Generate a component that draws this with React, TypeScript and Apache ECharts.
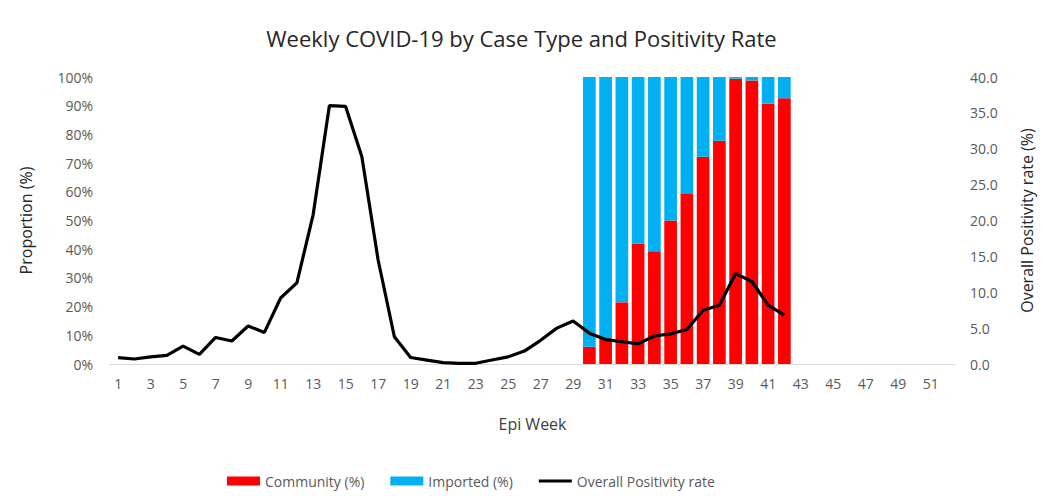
import React, { useEffect, useRef } from "react";
import * as echarts from "echarts";

const weeks: string[] = Array.from({ length: 52 }, (_, i) => String(i + 1));

// Community (%) for weeks 30-42 (others empty)
const communityPct: (number | null)[] = [
  null, null, null, null, null, null, null, null, null, null,
  null, null, null, null, null, null, null, null, null, null,
  null, null, null, null, null, null, null, null, null,
  6, 9, 21.5, 42, 39.3, 50, 59.5, 72.2, 77.8, 99.4, 98.8, 90.7, 92.6,
  null, null, null, null, null, null, null, null, null, null,
];

const importedPct: (number | null)[] = communityPct.map((v) =>
  v === null ? null : Math.round((100 - v) * 10) / 10
);

// Overall positivity rate (%) weeks 1-42
const positivity: (number | null)[] = [
  0.9, 0.7, 1.0, 1.2, 2.5, 1.35, 3.7, 3.2, 5.3, 4.4,
  9.2, 11.3, 20.8, 36.0, 35.9, 28.9, 14.5, 3.8, 0.9, 0.55,
  0.2, 0.1, 0.1, 0.55, 1.0, 1.8, 3.3, 5.0, 6.0, 4.3,
  3.4, 3.1, 2.8, 3.9, 4.2, 4.8, 7.5, 8.2, 12.6, 11.5,
  8.2, 6.8,
  null, null, null, null, null, null, null, null, null, null,
];

const FONT = "Open Sans";

export default function App() {
  const ref = useRef<HTMLDivElement>(null);
  useEffect(() => {
    if (!ref.current) return;
    const chart = echarts.init(ref.current, undefined, { renderer: "svg" });
    chart.setOption({
      animation: false,
      backgroundColor: "#ffffff",
      textStyle: { fontFamily: FONT },
      title: {
        text: "Weekly COVID-19 by Case Type and Positivity Rate",
        left: "center",
        top: 22,
        textStyle: { fontFamily: FONT, fontSize: 22, fontWeight: "normal", color: "#262626" },
      },
      legend: {
        bottom: 3,
        left: 222,
        itemWidth: 33,
        itemHeight: 9,
        itemGap: 26,
        textStyle: { fontFamily: FONT, fontSize: 14, color: "#595959" },
        data: [
          { name: "Community (%)", icon: "rect" },
          { name: "Imported (%)", icon: "rect" },
          { name: "Overall Positivity rate", icon: "path://M0,0 H33 V3 H0 Z" },
        ],
      },
      grid: { left: 110, right: 83, top: 77, bottom: 132 },
      xAxis: {
        type: "category",
        data: weeks,
        boundaryGap: true,
        name: "Epi Week",
        nameLocation: "middle",
        nameGap: 52,
        nameTextStyle: { fontFamily: FONT, fontSize: 16, color: "#404040" },
        axisLine: { lineStyle: { color: "#d9d9d9", width: 1 } },
        axisTick: { show: false },
        axisLabel: { interval: 1, margin: 12, fontSize: 14, color: "#595959", fontFamily: FONT },
      },
      yAxis: [
        {
          type: "value",
          min: 0,
          max: 100,
          interval: 10,
          name: "Proportion (%)",
          nameLocation: "middle",
          nameGap: 76,
          nameTextStyle: { fontFamily: FONT, fontSize: 16, color: "#262626" },
          axisLine: { show: false },
          axisTick: { show: false },
          splitLine: { show: false },
          axisLabel: { formatter: "{value}%", margin: 17, fontSize: 14, color: "#595959", fontFamily: FONT },
        },
        {
          type: "value",
          min: 0,
          max: 40,
          interval: 5,
          name: "Overall Positivity rate (%)",
          nameLocation: "middle",
          nameGap: 64,
          nameRotate: 90,
          nameTextStyle: { fontFamily: FONT, fontSize: 16, color: "#262626" },
          axisLine: { show: false },
          axisTick: { show: false },
          splitLine: { show: false },
          axisLabel: {
            formatter: (v: number) => v.toFixed(1),
            margin: 15,
            fontSize: 14,
            color: "#595959",
            fontFamily: FONT,
          },
        },
      ],
      series: [
        {
          name: "Community (%)",
          type: "bar",
          stack: "cases",
          data: communityPct,
          barCategoryGap: "22%",
          itemStyle: { color: "#ff0000" },
        },
        {
          name: "Imported (%)",
          type: "bar",
          stack: "cases",
          data: importedPct,
          barCategoryGap: "22%",
          itemStyle: { color: "#00b0f0" },
        },
        {
          name: "Overall Positivity rate",
          type: "line",
          yAxisIndex: 1,
          data: positivity,
          symbol: "none",
          lineStyle: { color: "#000000", width: 3.2 },
          itemStyle: { color: "#000000" },
          z: 5,
        },
      ],
    });
    return () => chart.dispose();
  }, []);
  return (
    <div
      ref={ref}
      style={{ position: "fixed", left: 0, top: 0, width: 1043, height: 496 }}
    />
  );
}
